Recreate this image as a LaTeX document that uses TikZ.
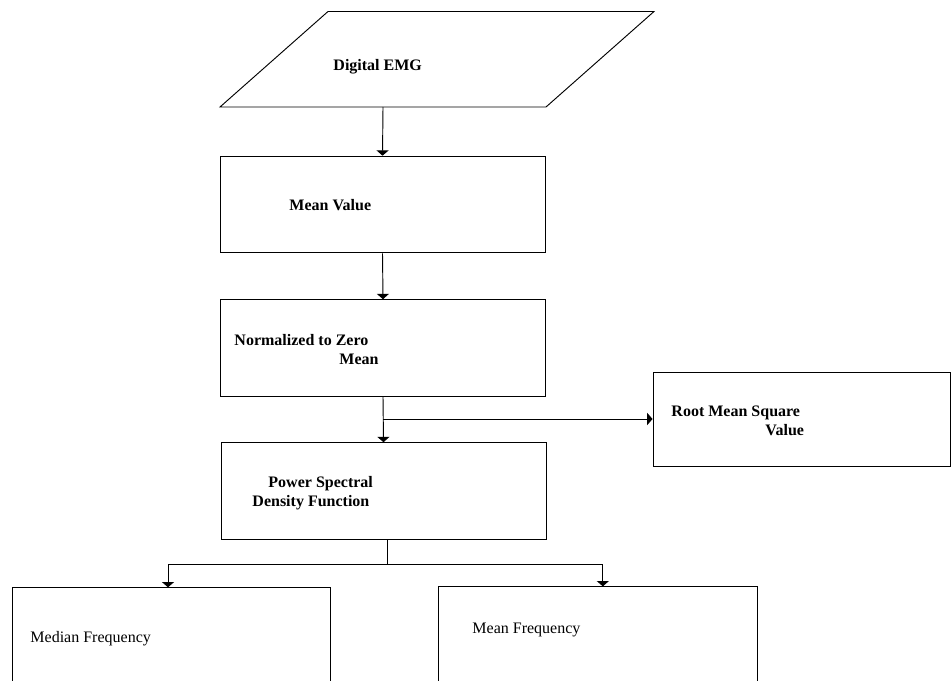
\documentclass[tikz,border=0pt]{standalone}
\usepackage{fontspec}
\setmainfont{Liberation Serif}
\usetikzlibrary{arrows.meta,calc}
\begin{document}
\begin{tikzpicture}[x=0.75pt,y=-0.75pt,line width=0.7pt,
  stepbox/.style={draw,inner sep=0pt,minimum width=243.75pt,minimum height=72.5pt},
  openbox/.style={draw,inner sep=0pt,minimum height=100pt},
  lbl/.style={anchor=base west,inner sep=0pt,font=\bfseries\fontsize{12}{14.5}\selectfont},
  lblr/.style={anchor=base west,inner sep=0pt,font=\fontsize{12}{14.5}\selectfont},
  arr/.style={-{Triangle[width=9pt,length=4pt]}}]
\useasboundingbox (0,0) rectangle (952,681);
\clip (0,0) rectangle (952,681);
% input parallelogram
\draw (220,107) -- (328,11.5) -- (654,11.5) -- (546,107) -- cycle;
\coordinate (par) at (383,107);
\node[lbl] (tdig) at (333,71) {Digital EMG};
% boxes
\node[stepbox] (mean) at (382.5,204.5) {};
\node[lbl] (tmean) at (289,210) {Mean Value};
\node[stepbox] (norm) at (383,348) {};
\node[lbl] (tnorm1) at (234,345) {Normalized to Zero};
\node[lbl] (tnorm2) at (339,364) {Mean};
\node[stepbox] (psd) at (383.5,491) {};
\node[lbl] (tpsd1) at (268,487) {Power Spectral};
\node[lbl] (tpsd2) at (252,506) {Density Function};
\node[draw,inner sep=0pt,minimum width=222.75pt,minimum height=70.5pt] (rms) at (801.5,419) {};
\node[lbl] (trms1) at (671,416) {Root Mean Square};
\node[lbl] (trms2) at (765,435) {Value};
\node[openbox,minimum width=238.5pt] (med) at (171,654.5) {};
\node[lblr] (tmed) at (30,642) {Median Frequency};
\node[openbox,minimum width=239.25pt] (mf) at (597.5,653.5) {};
\node[lblr] (tmf) at (472,633) {Mean Frequency};
% connectors
\draw[arr] (par) -- (mean.north);
\draw[arr] (mean.south) -- (norm.north);
\draw[arr] (norm.south) -- (psd.north);
\coordinate (split1) at (383,419);
\draw[arr] (split1) -- (rms.west);
\coordinate (split2) at (387,564);
\draw (psd.south -| split2) -- (split2);
\draw[arr] (split2) -| ([xshift=-2.25pt]med.north);
\draw[arr] (split2) -| ([xshift=4pt]mf.north);
\end{tikzpicture}
\end{document}
